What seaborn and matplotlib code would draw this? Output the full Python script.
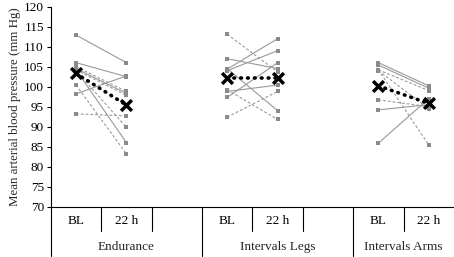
import numpy as np
import pandas as pd
import matplotlib
matplotlib.use("Agg")
import matplotlib.pyplot as plt
import seaborn as sns

# individual subjects, baseline (BL) and 22 h after exercise
endurance_bl = [112.9, 106.0, 98.2, 105.0, 104.5, 104.2, 104.0, 104.2, 100.4, 93.2]
endurance_22h = [106.0, 102.5, 102.7, 98.8, 98.3, 97.8, 89.8, 86.0, 83.2, 92.7]
endurance_dash = [0, 0, 0, 1, 0, 1, 1, 0, 1, 1]

legs_bl = [113.1, 107.0, 104.4, 104.0, 98.8, 97.3, 104.5, 99.2, 92.4]
legs_22h = [103.7, 104.5, 112.0, 109.0, 100.4, 106.0, 94.0, 91.8, 98.8]
legs_dash = [1, 0, 0, 0, 0, 0, 0, 1, 1]

arms_bl = [106.0, 105.4, 104.2, 104.2, 96.7, 94.2, 85.9, 104.0]
arms_22h = [100.2, 99.6, 99.0, 85.4, 95.0, 95.5, 97.0, 94.5]
arms_dash = [0, 0, 1, 1, 1, 0, 0, 1]

groups = ["Endurance", "Intervals Legs", "Intervals Arms"]
mean_bl = [103.3, 102.2, 100.2]
mean_22h = [95.4, 102.2, 95.8]

time_labels = ["BL", "22 h"]
# category slots: BL, 22 h, (gap) for each group
slot_bl = [0, 3, 6]
slot_22h = [1, 4, 7]

rows = []
uid = 0
for g, (bl, h22, dash) in enumerate([(endurance_bl, endurance_22h, endurance_dash),
                                     (legs_bl, legs_22h, legs_dash),
                                     (arms_bl, arms_22h, arms_dash)]):
    for a, b, d in zip(bl, h22, dash):
        st = "dashed" if d else "solid"
        rows.append(dict(subject=uid, x=slot_bl[g], value=a, style=st))
        rows.append(dict(subject=uid, x=slot_22h[g], value=b, style=st))
        uid += 1
df = pd.DataFrame(rows)

mean_rows = []
for g in range(3):
    mean_rows.append(dict(group=groups[g], x=slot_bl[g], value=mean_bl[g]))
    mean_rows.append(dict(group=groups[g], x=slot_22h[g], value=mean_22h[g]))
df_mean = pd.DataFrame(mean_rows)

sns.set_theme(style="ticks")
plt.rcParams["font.family"] = ["Liberation Serif", "DejaVu Serif"]

fig = plt.figure(figsize=(4.54, 2.57), dpi=100)
ax = fig.add_axes([0.112, 0.196, 0.888, 0.778])

sns.lineplot(data=df, x="x", y="value", units="subject", estimator=None,
             style="style", dashes={"solid": "", "dashed": (2.5, 1.8)},
             color="#999999", linewidth=0.8, marker="s", markersize=2.6,
             markeredgewidth=0, markerfacecolor="#8a8a8a",
             legend=False, sort=False, ax=ax)

for g in groups:
    d = df_mean[df_mean["group"] == g]
    ax.plot(d["x"], d["value"], color="black", linewidth=2.6,
            linestyle=(0, (0.2, 1.7)), dash_capstyle="round", zorder=5)
sns.scatterplot(data=df_mean, x="x", y="value", marker="x", s=60,
                color="black", linewidth=2.5, zorder=6, legend=False, ax=ax)

ax.set_ylim(70, 120)
ax.set_yticks(np.arange(70, 121, 5))
ax.set_xlim(-0.5, 7.5)
ax.set_xticks(slot_bl + slot_22h)
ax.set_xticklabels(time_labels[:1] * 3 + time_labels[1:] * 3)
ax.tick_params(axis="x", length=0, pad=6, labelsize=9.5, colors="black")
ax.tick_params(axis="y", length=3, width=0.8, labelsize=9.5, pad=2, colors="black")
ax.set_xlabel("")
ax.set_ylabel("Mean arterial blood pressure (mm Hg)", fontsize=9.3, labelpad=2)
for s in ["top", "right"]:
    ax.spines[s].set_visible(False)
ax.spines["left"].set_linewidth(0.8)
ax.spines["bottom"].set_linewidth(0.8)
ax.spines["left"].set_color("black")
ax.spines["bottom"].set_color("black")

# multi-level category axis dividers
trans = ax.get_xaxis_transform()
for xb in [0.5, 1.5, 3.5, 4.5, 6.5]:
    ax.plot([xb, xb], [0, -0.12], transform=trans, color="black",
            linewidth=0.8, clip_on=False)
for xb in [-0.5, 2.5, 5.5]:
    ax.plot([xb, xb], [0, -0.245], transform=trans, color="black",
            linewidth=0.8, clip_on=False)
for xc, g in zip([1, 4, 6.5], groups):
    ax.text(xc, -0.2, g, transform=trans, ha="center", va="center",
            fontsize=9.5)

plt.savefig("out.png", dpi=100)
